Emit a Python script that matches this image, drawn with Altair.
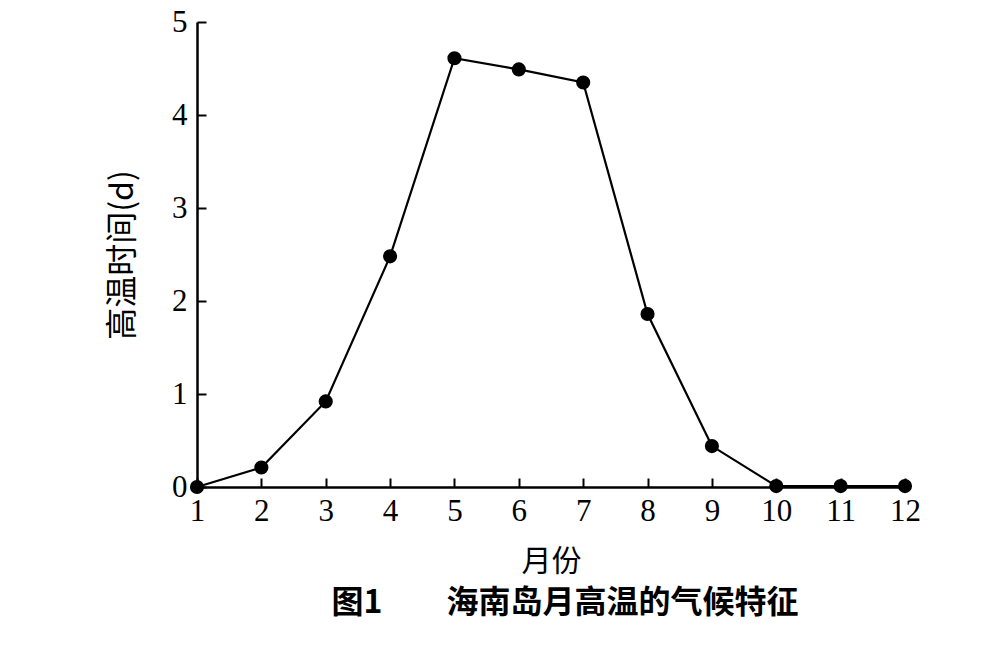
import altair as alt
import pandas as pd

months = [1, 2, 3, 4, 5, 6, 7, 8, 9, 10, 11, 12]
hot_days = [0.0, 0.21, 0.92, 2.48, 4.61, 4.49, 4.35, 1.86, 0.44, 0.01, 0.01, 0.01]

df = pd.DataFrame({"month": months, "days": hot_days})

serif = "Liberation Serif"
cjk = "Noto Sans CJK SC"

x = alt.X("month:Q",
          scale=alt.Scale(domain=[1, 12], nice=False, zero=False),
          axis=alt.Axis(values=months, title="月份", titleFont=cjk, titleFontSize=30,
                        titleFontWeight="normal", titlePadding=20,
                        labelFont=serif, labelFontSize=31, labelPadding=18,
                        tickSize=alt.ExprRef(expr="-9"), tickWidth=2, domainWidth=2.5,
                        domainColor="black", tickColor="black", labelColor="black",
                        titleColor="black", grid=False, labelFlush=False))
y = alt.Y("days:Q",
          scale=alt.Scale(domain=[0, 5], nice=False),
          axis=alt.Axis(values=[0, 1, 2, 3, 4, 5], title="高温时间(d)", titleFont=cjk,
                        titleFontSize=32, titleFontWeight="normal", titlePadding=32,
                        labelFont=serif, labelFontSize=31, labelPadding=19,
                        tickSize=alt.ExprRef(expr="-9"), tickWidth=2, domainWidth=2.5,
                        domainColor="black", tickColor="black", labelColor="black",
                        titleColor="black", grid=False, labelFlush=False))

base = alt.Chart(df)
line = base.mark_line(color="black", strokeWidth=2.2).encode(x=x, y=y)
pts = base.mark_circle(color="black", size=200, opacity=1).encode(x=x, y=y)

chart = (line + pts).properties(
    width=708, height=465,
    background="white",
    title=alt.TitleParams("图1　　海南岛月高温的气候特征", orient="bottom", anchor="middle",
                          font=cjk, fontSize=32, fontWeight="bold", color="black",
                          offset=12, dx=14),
    autosize=alt.AutoSizeParams(type="none"),
    padding={"left": 189, "top": 14, "right": 80, "bottom": 170},
).configure_view(strokeWidth=0, stroke=None)

chart.save("out.html", embed_options={"renderer": "svg", "actions": False})
